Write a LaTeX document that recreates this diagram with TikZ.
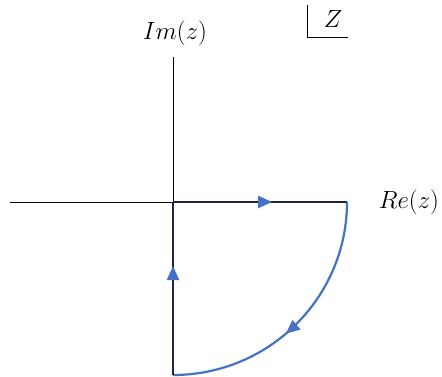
\documentclass[tikz,border=0pt]{standalone}
\usetikzlibrary{arrows.meta,decorations.markings}
\definecolor{arcblue}{RGB}{68,114,196}
\definecolor{navy}{RGB}{28,38,68}
\tikzset{
  axis/.style={black, line width=0.9pt},
  contour/.style={navy, line width=2.2pt},
  arcpath/.style={arcblue, line width=2.2pt},
  midarrow/.style={postaction={decorate,decoration={markings,
     mark=at position #1 with {\arrow{Triangle[length=14pt,width=12pt,color=arcblue]}}}}},
  lbl/.style={inner sep=0pt, font=\fontsize{23}{27}\selectfont}
}
\begin{document}
\begin{tikzpicture}[x=1pt,y=-1pt]
\useasboundingbox (0,0) rectangle (442,376);
\coordinate (O) at (173,202);
\coordinate (A) at (347,202);
\coordinate (B) at (173,375);
\coordinate (L) at (10,202);
\coordinate (T) at (173,57);
\coordinate (C1) at (307,5);
\coordinate (C2) at (307,37);
\coordinate (C3) at (348,37);
% axes
\draw[axis] (L) -- (O);
\draw[axis] (T) -- (O);
% labels
\node[lbl] (im) at (175,33) {$Im(z)$};
\node[lbl] (re) at (409,202) {$Re(z)$};
\node[lbl] (z) at (333,19) {$Z$};
\draw[axis] (C1) -- (C2) -- (C3);
% contour
\draw[arcpath, midarrow=0.55] (A) arc[x radius=174, y radius=173, start angle=0, end angle=90];
\draw[contour, midarrow=0.57] (O) -- (A);
\draw[contour, midarrow=0.63] (B) -- (O);
\end{tikzpicture}
\end{document}
